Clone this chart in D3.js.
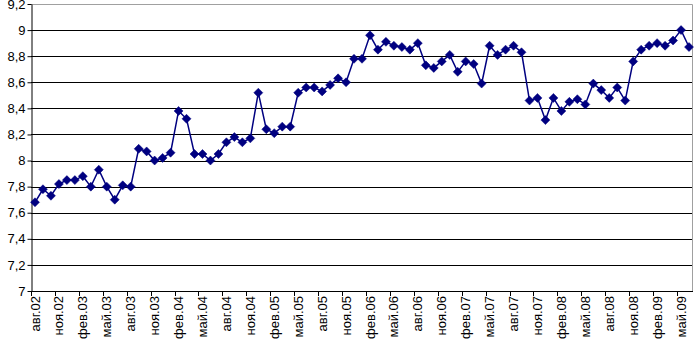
<!DOCTYPE html>
<html>
<head>
<meta charset="utf-8">
<script src="https://cdn.jsdelivr.net/npm/d3@7"></script>
<style>
  body { margin: 0; background: #fff; }
  svg { display: block; font-family: "Liberation Sans", Arial, sans-serif; }
</style>
</head>
<body>
<div id="chart-container"></div>
<script>
// month names used for category labels
var monthNames = ["янв", "фев", "мар", "апр", "май", "июн", "июл", "авг", "сен", "окт", "ноя", "дек"];

// categories: авг.02 .. июн.09
var months = [];
for (var yr = 2002; yr <= 2009; yr++) {
    for (var m = 0; m < 12; m++) {
        if (yr === 2002 && m < 7) continue;
        if (yr === 2009 && m > 5) continue;
        months.push(monthNames[m] + "." + String(yr).slice(2));
    }
}

// series values
var values = [
    7.68, 7.78, 7.73, 7.82, 7.85, 7.85, 7.88, 7.80, 7.93, 7.80, 7.70, 7.81,
    7.80, 8.09, 8.07, 8.00, 8.02, 8.06, 8.38, 8.32, 8.05, 8.05, 8.00, 8.05,
    8.14, 8.18, 8.14, 8.17, 8.52, 8.24, 8.21, 8.26, 8.26, 8.52, 8.56, 8.56,
    8.53, 8.58, 8.63, 8.60, 8.78, 8.78, 8.96, 8.85, 8.91, 8.88, 8.87, 8.85,
    8.90, 8.73, 8.71, 8.76, 8.81, 8.68, 8.76, 8.74, 8.59, 8.88, 8.81, 8.85,
    8.88, 8.83, 8.46, 8.48, 8.31, 8.48, 8.38, 8.45, 8.47, 8.43, 8.59, 8.54,
    8.48, 8.56, 8.46, 8.76, 8.85, 8.88, 8.90, 8.88, 8.92, 9.00, 8.87
];

// y tick labels
var yTicks = [7, 7.2, 7.4, 7.6, 7.8, 8, 8.2, 8.4, 8.6, 8.8, 9, 9.2];

var data = months.map(function (d, i) { return { month: d, value: values[i] }; });

var margin = { top: 4, right: 1, bottom: 58, left: 31 },
    width = 694 - margin.left - margin.right,
    height = 349 - margin.top - margin.bottom;

var svg = d3.select("#chart-container")
    .append("svg")
    .attr("width", 694)
    .attr("height", 349)
    .append("g")
    .attr("transform", "translate(" + margin.left + "," + margin.top + ")");

var x = d3.scaleBand()
    .domain(months)
    .range([0, width])
    .padding(0);

var y = d3.scaleLinear()
    .domain([7, 9.2])
    .range([height, 0]);

var fmt = function (d) { return d3.format("~g")(d).replace(".", ","); };

// Horizontal gridlines
svg.selectAll(".grid")
    .data(yTicks.slice(1, -1))
    .enter()
    .append("line")
    .attr("class", "grid")
    .attr("x1", 0)
    .attr("x2", width)
    .attr("y1", function (d) { return Math.round(y(d)) + 0.5; })
    .attr("y2", function (d) { return Math.round(y(d)) + 0.5; })
    .attr("stroke", "#000")
    .attr("stroke-width", 1);

// Plot area border (top and right)
svg.append("path")
    .attr("d", "M0," + (Math.round(y(9.2)) + 0.5) + "H" + (width - 0.5) + "V" + height)
    .attr("fill", "none")
    .attr("stroke", "#a0a0a0")
    .attr("stroke-width", 1);

// Y axis
var yAxis = svg.append("g")
    .attr("transform", "translate(0.5,0)")
    .call(d3.axisLeft(y).tickValues(yTicks).tickFormat(fmt).tickSize(4).tickSizeOuter(0));
yAxis.select(".domain").attr("stroke", "#000");
yAxis.selectAll("line").attr("stroke", "#000");
yAxis.selectAll("text")
    .attr("x", -6)
    .style("font-size", "13px")
    .style("fill", "#000")
    .style("font-family", "Liberation Sans, Arial, sans-serif");

// X axis line
svg.append("line")
    .attr("x1", 0)
    .attr("x2", width)
    .attr("y1", height + 0.5)
    .attr("y2", height + 0.5)
    .attr("stroke", "#000");

var labelMonths = months.filter(function (d, i) { return i % 3 === 0; });

// tick marks at category boundaries
svg.selectAll(".xtick")
    .data(labelMonths)
    .enter()
    .append("line")
    .attr("class", "xtick")
    .attr("x1", function (d) { return Math.round(x(d)) + 0.5; })
    .attr("x2", function (d) { return Math.round(x(d)) + 0.5; })
    .attr("y1", height)
    .attr("y2", height + 5)
    .attr("stroke", "#000");

// x labels, rotated
var xAxis = svg.append("g")
    .attr("transform", "translate(0," + height + ")")
    .call(d3.axisBottom(x).tickValues(labelMonths).tickSize(0).tickSizeOuter(0));
xAxis.select(".domain").remove();
xAxis.selectAll("text")
    .attr("transform", "rotate(-90)")
    .attr("x", -5)
    .attr("y", 0)
    .attr("dy", "0.35em")
    .style("text-anchor", "end")
    .style("font-size", "13px")
    .style("fill", "#000")
    .style("font-family", "Liberation Sans, Arial, sans-serif");

// Line
var line = d3.line()
    .x(function (d) { return x(d.month) + x.bandwidth() / 2; })
    .y(function (d) { return y(d.value); });

svg.append("path")
    .datum(data)
    .attr("fill", "none")
    .attr("stroke", "#000080")
    .attr("stroke-width", 1.5)
    .attr("d", line);

// Diamond markers
svg.selectAll(".marker")
    .data(data)
    .enter()
    .append("path")
    .attr("class", "marker")
    .attr("transform", function (d) {
        return "translate(" + (x(d.month) + x.bandwidth() / 2) + "," + y(d.value) + ")";
    })
    .attr("d", "M0,-4.5L4.5,0L0,4.5L-4.5,0Z")
    .attr("fill", "#000080")
    .attr("stroke", "#000080")
    .attr("stroke-width", 0.5);
</script>
</body>
</html>
